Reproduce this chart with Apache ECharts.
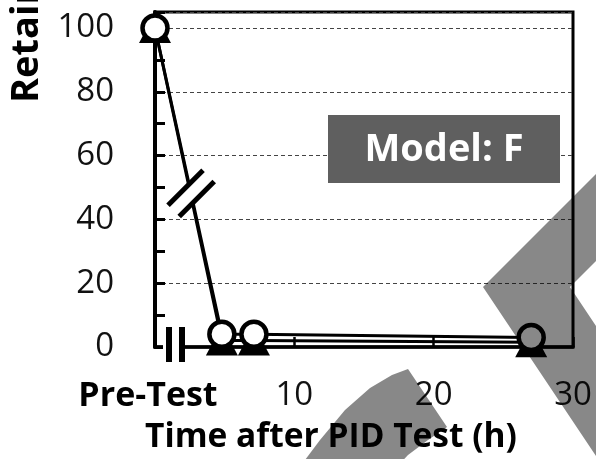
<!DOCTYPE html>
<html>
<head>
<meta charset="utf-8">
<script src="https://cdn.jsdelivr.net/npm/echarts@6/dist/echarts.min.js"></script>
<style>
  html, body { margin: 0; padding: 0; background: #fff; }
  #chartRetain { width: 596px; height: 459px; }
</style>
</head>
<body>
<div id="chartRetain"></div>
<script>
(function () {
    "use strict";

    /*----data----*/
    var hours = [0, 4.8, 7.1, 27];
    var circleValues = [100, 4, 4, 3];
    var triangleValues = [100, 2, 2, 1.5];
    var xTickLabels = { 0: 'Pre-Test', 10: '10', 20: '20', 30: '30' };
    var yTickLabels = [0, 20, 40, 60, 80, 100];
    var modelLabel = 'Model: F';

    var font = '"Open Sans", "Noto Sans", sans-serif';

    function pairs(xs, ys) {
        var out = [];
        for (var i = 0; i < xs.length; i++) {
            out.push([xs[i], ys[i]]);
        }
        return out;
    }

    /*----main chart----*/
    var optionRetain = {
        animation: false,
        backgroundColor: '#fff',
        grid: {
            left: 155,
            right: 23,
            top: 12,
            bottom: 111,
            show: true,
            borderColor: '#000',
            borderWidth: 3,
            backgroundColor: 'transparent'
        },
        xAxis: {
            type: 'value',
            min: 0,
            max: 30,
            interval: 10,
            name: 'Time after PID Test (h)',
            nameLocation: 'middle',
            nameGap: 73,
            nameTextStyle: {
                fontFamily: font,
                fontWeight: 'bold',
                fontSize: 33.5,
                color: '#000',
                padding: [0, 66, 0, 0]
            },
            axisLine: { lineStyle: { color: '#000', width: 3.5 } },
            axisTick: { inside: true, length: 10, lineStyle: { color: '#000', width: 2.5 } },
            splitLine: { show: false },
            axisLabel: {
                margin: 32,
                fontFamily: font,
                fontSize: 33,
                color: '#111',
                formatter: function (v) {
                    if (v === 0) return '{b|' + xTickLabels[0] + '}';
                    return xTickLabels[v] !== undefined ? xTickLabels[v] : '';
                },
                rich: {
                    b: {
                        fontFamily: font,
                        fontWeight: 'bold',
                        fontSize: 34,
                        color: '#000',
                        padding: [0, 14, 4, 0]
                    }
                }
            }
        },
        yAxis: [{
            type: 'value',
            min: 0,
            max: 105,
            interval: 10,
            axisLine: { show: true, lineStyle: { color: '#000', width: 4 } },
            axisTick: { inside: true, length: 10, lineStyle: { color: '#000', width: 3 } },
            splitLine: { show: false },
            axisLabel: {
                margin: 41,
                fontFamily: font,
                fontSize: 33,
                color: '#111',
                formatter: function (v) {
                    return yTickLabels.indexOf(v) >= 0 ? String(v) : '';
                }
            }
        }, {
            type: 'value',
            position: 'left',
            min: 0,
            max: 105,
            interval: 20,
            axisLine: { show: false },
            axisTick: { show: false },
            axisLabel: { show: false },
            splitLine: {
                show: true,
                lineStyle: { color: '#444', width: 1, type: [4, 3] }
            }
        }],
        series: [{
            name: 'Triangle',
            type: 'line',
            data: pairs(hours, triangleValues),
            symbol: 'triangle',
            symbolSize: [32, 30],
            itemStyle: { color: '#000' },
            lineStyle: { color: '#000', width: 3 },
            z: 3
        }, {
            name: 'Circle',
            type: 'line',
            data: pairs(hours, circleValues),
            symbol: 'circle',
            symbolSize: 25,
            itemStyle: { color: '#fff', borderColor: '#000', borderWidth: 4.5 },
            lineStyle: { color: '#000', width: 3 },
            z: 4
        }]
    };

    var chartDom = document.getElementById('chartRetain');
    var chartRetain = echarts.init(chartDom);
    chartRetain.setOption(optionRetain);

    /*----decorations: axis breaks, label box, y name, grey shapes----*/
    var origin = chartRetain.convertToPixel({ gridIndex: 0 }, [0, 0]);
    var p0 = chartRetain.convertToPixel({ gridIndex: 0 }, [hours[0], circleValues[0]]);
    var p1 = chartRetain.convertToPixel({ gridIndex: 0 }, [hours[1], circleValues[1]]);
    var t = 0.54;
    var mid = [p0[0] + (p1[0] - p0[0]) * t, p0[1] + (p1[1] - p0[1]) * t];

    var h = 17.5, off = 5.6;
    var s1 = [[mid[0] - off - h, mid[1] - off + h], [mid[0] - off + h, mid[1] - off - h]];
    var s2 = [[mid[0] + off - h, mid[1] + off + h], [mid[0] + off + h, mid[1] + off - h]];

    var ox = origin[0], oy = origin[1];

    var graphics = [
        // x axis break
        { type: 'rect', z: 50, shape: { x: ox + 8, y: oy - 4, width: 16, height: 8 }, style: { fill: '#fff' } },
        { type: 'rect', z: 51, shape: { x: ox + 11, y: oy - 20, width: 6, height: 35 }, style: { fill: '#000' } },
        { type: 'rect', z: 51, shape: { x: ox + 24, y: oy - 20, width: 6, height: 35 }, style: { fill: '#000' } },
        // line break
        { type: 'polygon', z: 50, shape: { points: [s1[0], s1[1], s2[1], s2[0]] }, style: { fill: '#fff' } },
        { type: 'line', z: 51, shape: { x1: s1[0][0], y1: s1[0][1], x2: s1[1][0], y2: s1[1][1] }, style: { stroke: '#000', lineWidth: 5 } },
        { type: 'line', z: 51, shape: { x1: s2[0][0], y1: s2[0][1], x2: s2[1][0], y2: s2[1][1] }, style: { stroke: '#000', lineWidth: 5 } },
        // model box
        { type: 'rect', z: 60, shape: { x: 328, y: 115, width: 232, height: 68 }, style: { fill: '#5f5f5f' } },
        {
            type: 'text', z: 61, x: 444, y: 150,
            style: { text: modelLabel, fill: '#fff', font: 'bold 38px ' + font, align: 'center', verticalAlign: 'middle' }
        },
        // y axis name (runs off the top)
        {
            type: 'text', z: 61, x: 27, y: 103, rotation: Math.PI / 2,
            style: { text: 'Retained Power (%)', fill: '#000', font: 'bold 38px ' + font, align: 'left', verticalAlign: 'middle' }
        },
        // grey shapes
        {
            type: 'polygon', z: 100,
            shape: { points: [[620, 150], [483, 287], [620, 492], [620, 362], [570, 287], [620, 237]] },
            style: { fill: '#888', blend: 'multiply' }
        },
        {
            type: 'polygon', z: 100,
            shape: { points: [[296, 472], [320, 440], [345, 410], [370, 388], [392, 375], [408, 369], [447, 427], [428, 440], [408, 455], [392, 472]] },
            style: { fill: '#888', blend: 'multiply' }
        }
    ];

    chartRetain.setOption({ graphic: graphics });
})();
</script>
</body>
</html>
